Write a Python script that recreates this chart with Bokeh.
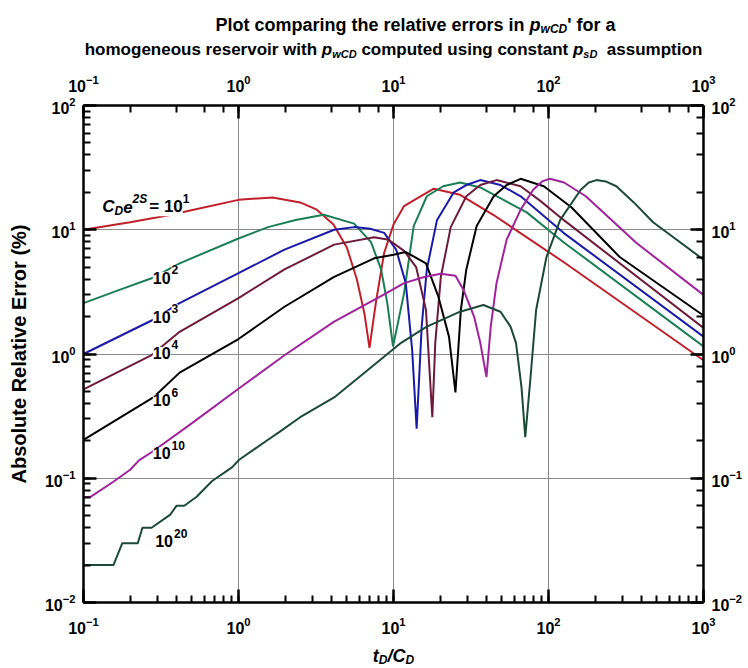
from bokeh.plotting import figure
from bokeh.models import LogAxis, Label, Range1d
from bokeh.layouts import column
from bokeh.embed import file_html
from bokeh.resources import INLINE

# ---------------- data ----------------
t_c1e1 = [0.1, 0.2, 0.37, 0.48, 1.0, 1.66, 2.5, 3.2, 4.1, 5.0, 5.8, 6.5, 7.0, 7.7, 8.7, 10, 11.7, 14.1, 18.2, 26.9, 44, 125, 1000]
e_c1e1 = [10, 11.5, 13.2, 14.2, 17.4, 18.2, 16.6, 14.5, 11.0, 7.2, 4.0, 2.1, 1.12, 2.6, 6.5, 11.0, 15.5, 17.8, 21.4, 19.1, 13.2, 5.5, 0.89]

t_c1e2 = [0.1, 0.174, 0.275, 0.417, 1.0, 1.55, 2.34, 3.55, 5.57, 7.16, 8.32, 9.12, 9.93, 11.7, 13.5, 16.4, 20.9, 26.9, 36.3, 72.4, 125, 1000]
e_c1e2 = [2.57, 3.31, 4.07, 5.37, 8.51, 10.5, 12.0, 13.2, 11.2, 7.94, 4.79, 2.57, 1.15, 3.09, 10.7, 18.6, 22.4, 24.0, 21.9, 13.8, 7.94, 1.15]

t_c1e3 = [0.1, 0.275, 0.417, 1.0, 1.98, 4.14, 5.57, 7.08, 8.71, 10.4, 12.0, 13.2, 14.1, 15.2, 16.4, 19.1, 24.5, 29.5, 36.3, 49.0, 66.1, 125, 1000]
e_c1e3 = [1.0, 1.86, 2.57, 4.47, 6.92, 10.0, 10.5, 10.2, 9.44, 6.92, 3.72, 1.07, 0.25, 1.66, 4.79, 12.0, 20.0, 22.9, 25.1, 22.9, 18.6, 9.44, 1.38]

t_c1e4 = [0.1, 0.275, 0.417, 1.0, 1.98, 4.14, 7.5, 9.3, 11.7, 14.0, 16.2, 17.8, 18.6, 20.2, 23.4, 29.5, 36.3, 46.2, 66.1, 89, 125, 1000]
e_c1e4 = [0.52, 0.98, 1.51, 2.82, 4.79, 7.59, 8.71, 8.3, 6.76, 5.01, 2.26, 0.31, 1.23, 4.17, 10.5, 18.6, 22.9, 25.1, 22.4, 17.0, 12.0, 1.62]

t_c1e6 = [0.1, 0.282, 0.417, 1.0, 1.98, 4.14, 7.5, 10, 12.0, 16.2, 19.5, 22.8, 25.1, 27.2, 29.5, 34.4, 44.3, 53.7, 66.1, 93.3, 141, 288, 1000]
e_c1e6 = [0.204, 0.447, 0.708, 1.32, 2.40, 4.17, 5.89, 6.3, 6.61, 5.37, 2.88, 1.38, 0.49, 2.26, 4.79, 10.7, 18.6, 22.9, 25.7, 22.4, 15.1, 6.03, 2.04]

t_c1e10 = [0.1, 0.111, 0.155, 0.2, 0.229, 0.275, 0.484, 1.0, 1.98, 4.14, 8.71, 11.7, 15.8, 20.2, 25.1, 28.2, 33.1, 36.3, 39.8, 42.4, 46.2, 53.7, 66.1, 79.4, 91, 102, 126, 174, 368, 1000]
e_c1e10 = [0.0708, 0.0708, 0.0933, 0.117, 0.140, 0.162, 0.269, 0.525, 0.977, 1.82, 3.02, 3.72, 4.17, 4.42, 4.27, 3.31, 2.0, 1.23, 0.653, 1.66, 3.72, 8.32, 14.5, 20.9, 24.5, 25.7, 24.0, 18.6, 7.85, 2.99]

t_c1e20 = [0.1, 0.156, 0.178, 0.224, 0.24, 0.275, 0.363, 0.398, 0.447, 0.537, 0.676, 0.912, 1.01, 1.55, 1.82, 2.5, 4.14, 6.8, 11.2, 16.4, 26.9, 38.0, 49.0, 56.9, 61.7, 67.0, 70.8, 76.6, 83.2, 97.0, 119, 161, 182, 204, 234, 274, 355, 473, 1000]
e_c1e20 = [0.02, 0.02, 0.03, 0.03, 0.04, 0.04, 0.051, 0.06, 0.06, 0.071, 0.095, 0.123, 0.141, 0.204, 0.234, 0.31, 0.447, 0.74, 1.23, 1.66, 2.19, 2.48, 2.19, 1.66, 1.23, 0.537, 0.214, 0.653, 2.26, 6.03, 12.0, 20.9, 24.0, 25.1, 24.5, 22.4, 16.6, 11.5, 5.75]

series_t = [t_c1e1, t_c1e2, t_c1e3, t_c1e4, t_c1e6, t_c1e10, t_c1e20]
series_e = [e_c1e1, e_c1e2, e_c1e3, e_c1e4, e_c1e6, e_c1e10, e_c1e20]
series_colors = ["#c0202a", "#1b7f55", "#1a1aa8", "#6e1a3a", "#000000", "#a0229c", "#1b4a38"]

# curve label anchors (t, E at text baseline) and exponents
label_exps = ["2", "3", "4", "6", "10", "20"]
label_t = [0.28, 0.28, 0.28, 0.28, 0.28, 0.29]
label_e = [4.1, 1.99, 1.02, 0.426, 0.159, 0.031]
main_label_t = 0.132
main_label_e = 15.3

x_range = (0.1, 1000)
y_range = (0.01, 100)

FONT = "Liberation Sans"
PAGE_W = 745
BORDER_L, BORDER_R = 83, 42          # plot frame spans x = 83 .. 703 on the page

# Arial/Liberation Sans Bold advance widths (1/1000 em)
W = {" ": 278, "'": 238, "(": 333, ")": 333, "%": 889, "/": 278, "=": 584,
     "C": 722, "D": 722, "P": 667, "S": 667, "A": 722, "R": 722, "E": 667,
     "a": 556, "b": 611, "c": 556, "d": 611, "e": 556, "f": 333, "g": 611, "h": 611,
     "i": 278, "l": 278, "m": 889, "n": 611, "o": 611, "p": 611, "r": 389, "s": 556,
     "t": 333, "u": 611, "v": 556, "w": 778}


def tw(s, size):
    return sum(W.get(ch, 556) for ch in s) * size / 1000.0


def lab(fig, x, y, text, size, style="bold", xo=0, yo=0, bg=None):
    kw = dict(x=x, y=y, text=text, text_font=FONT, text_font_style=style,
              text_font_size=f"{size}px", text_baseline="alphabetic", text_align="left",
              text_color="black", x_offset=xo, y_offset=yo)
    if bg:
        kw.update(background_fill_color=bg)
    fig.add_layout(Label(**kw))


def runs(fig, cx, by, parts):
    """Text runs centred on page pixel cx with baseline at pixel by (strip whose data units are pixels)."""
    total = sum(tw(t, s) for t, s, st, dy in parts)
    x = cx - total / 2
    for t, s, st, dy in parts:
        body = t.lstrip(" ")
        lead = tw(t[:len(t) - len(body)], s)
        lab(fig, x + lead, by + dy, body.rstrip(" "), s, style=st)
        x += tw(t, s)


def text_strip(h):
    # frame aligned with the main plot frame; data units = page pixels
    f = figure(width=PAGE_W, height=h, x_range=Range1d(BORDER_L, PAGE_W - BORDER_R), y_range=Range1d(0, h),
               output_backend="svg", toolbar_location=None, title=None,
               min_border_left=BORDER_L, min_border_right=BORDER_R, min_border_top=0, min_border_bottom=0,
               x_axis_location=None, y_axis_location=None)
    f.grid.visible = False
    f.outline_line_color = None
    return f


# ---------------- title strip ----------------
tf = text_strip(58)
runs(tf, 415, 34, [("Plot comparing the relative errors in ", 18, "bold", 0), ("p", 18, "bold italic", 0),
                   ("wCD", 12, "bold italic", -4), ("' for a", 18, "bold", 0)])
runs(tf, 393, 9, [("homogeneous reservoir with ", 17, "bold", 0), ("p", 17, "bold italic", 0),
                  ("wCD", 11, "bold italic", -4), (" computed using constant ", 17, "bold", 0),
                  ("p", 17, "bold italic", 0), ("sD", 11, "bold italic", -4), ("  assumption", 17, "bold", 0)])

# ---------------- main plot ----------------
p = figure(width=PAGE_W, height=580, x_axis_type="log", y_axis_type="log",
           x_range=Range1d(*x_range), y_range=Range1d(*y_range),
           output_backend="svg", toolbar_location=None, title=None,
           min_border_left=BORDER_L, min_border_right=BORDER_R, min_border_top=47, min_border_bottom=36)
p.outline_line_color = None
p.background_fill_color = "white"
p.border_fill_color = "white"

left_ax = p.yaxis[0]
p.add_layout(LogAxis(), "above")
p.add_layout(LogAxis(), "right")

for ax in list(p.xaxis) + list(p.yaxis):
    ax.axis_line_width = 2.5
    ax.axis_line_color = "black"
    ax.major_tick_in = 13
    ax.major_tick_out = 0
    ax.minor_tick_in = 7
    ax.minor_tick_out = 0
    ax.major_tick_line_width = 2.5
    ax.minor_tick_line_width = 2
    ax.major_tick_line_color = "black"
    ax.minor_tick_line_color = "black"
    ax.major_label_text_font = FONT
    ax.major_label_text_font_style = "bold"
    ax.major_label_text_font_size = "16px"
    ax.major_label_text_color = "black"
for ax in p.xaxis:
    ax.major_label_standoff = 14
for ax in p.yaxis:
    ax.major_label_standoff = 8

left_ax.axis_label = "Absolute Relative Error (%)"
left_ax.axis_label_text_font = FONT
left_ax.axis_label_text_font_style = "bold"
left_ax.axis_label_text_font_size = "20px"
left_ax.axis_label_text_color = "black"
left_ax.axis_label_standoff = 12

p.grid.grid_line_color = "#8a8a8a"
p.grid.grid_line_width = 1
p.grid.minor_grid_line_color = None

for ts, es, c in zip(series_t, series_e, series_colors):
    p.line(ts, es, line_color=c, line_width=2)

# curve labels: "10" + superscript exponent
for lt, le, ex in zip(label_t, label_e, label_exps):
    lab(p, lt, le, "10", 16, bg="white")
    lab(p, lt, le, ex, 12, xo=tw("10", 16) + 1, yo=8, bg="white")

# main label  C_D e^2S = 10^1
parts = [("C", 17, "bold italic", 0), ("D", 12, "bold italic", -4), ("e", 17, "bold italic", 0),
         ("2S", 12, "bold italic", 8), ("= 10", 17, "bold", 0), ("1", 12, "bold", 8)]
xo = 0
for txt, sz, st, dy in parts:
    lab(p, main_label_t, main_label_e, txt, sz, style=st, xo=xo, yo=dy, bg="white")
    xo += tw(txt, sz) + (2 if txt == "2S" else 0)

# ---------------- x-axis label strip ----------------
xf = text_strip(28)
runs(xf, 393, 11, [("t", 18, "bold italic", 0), ("D", 12, "bold italic", -4), ("/C", 18, "bold italic", 0),
                   ("D", 12, "bold italic", -4)])

layout = column(tf, p, xf, spacing=0)
open("out.html", "w").write(file_html(layout, INLINE))
